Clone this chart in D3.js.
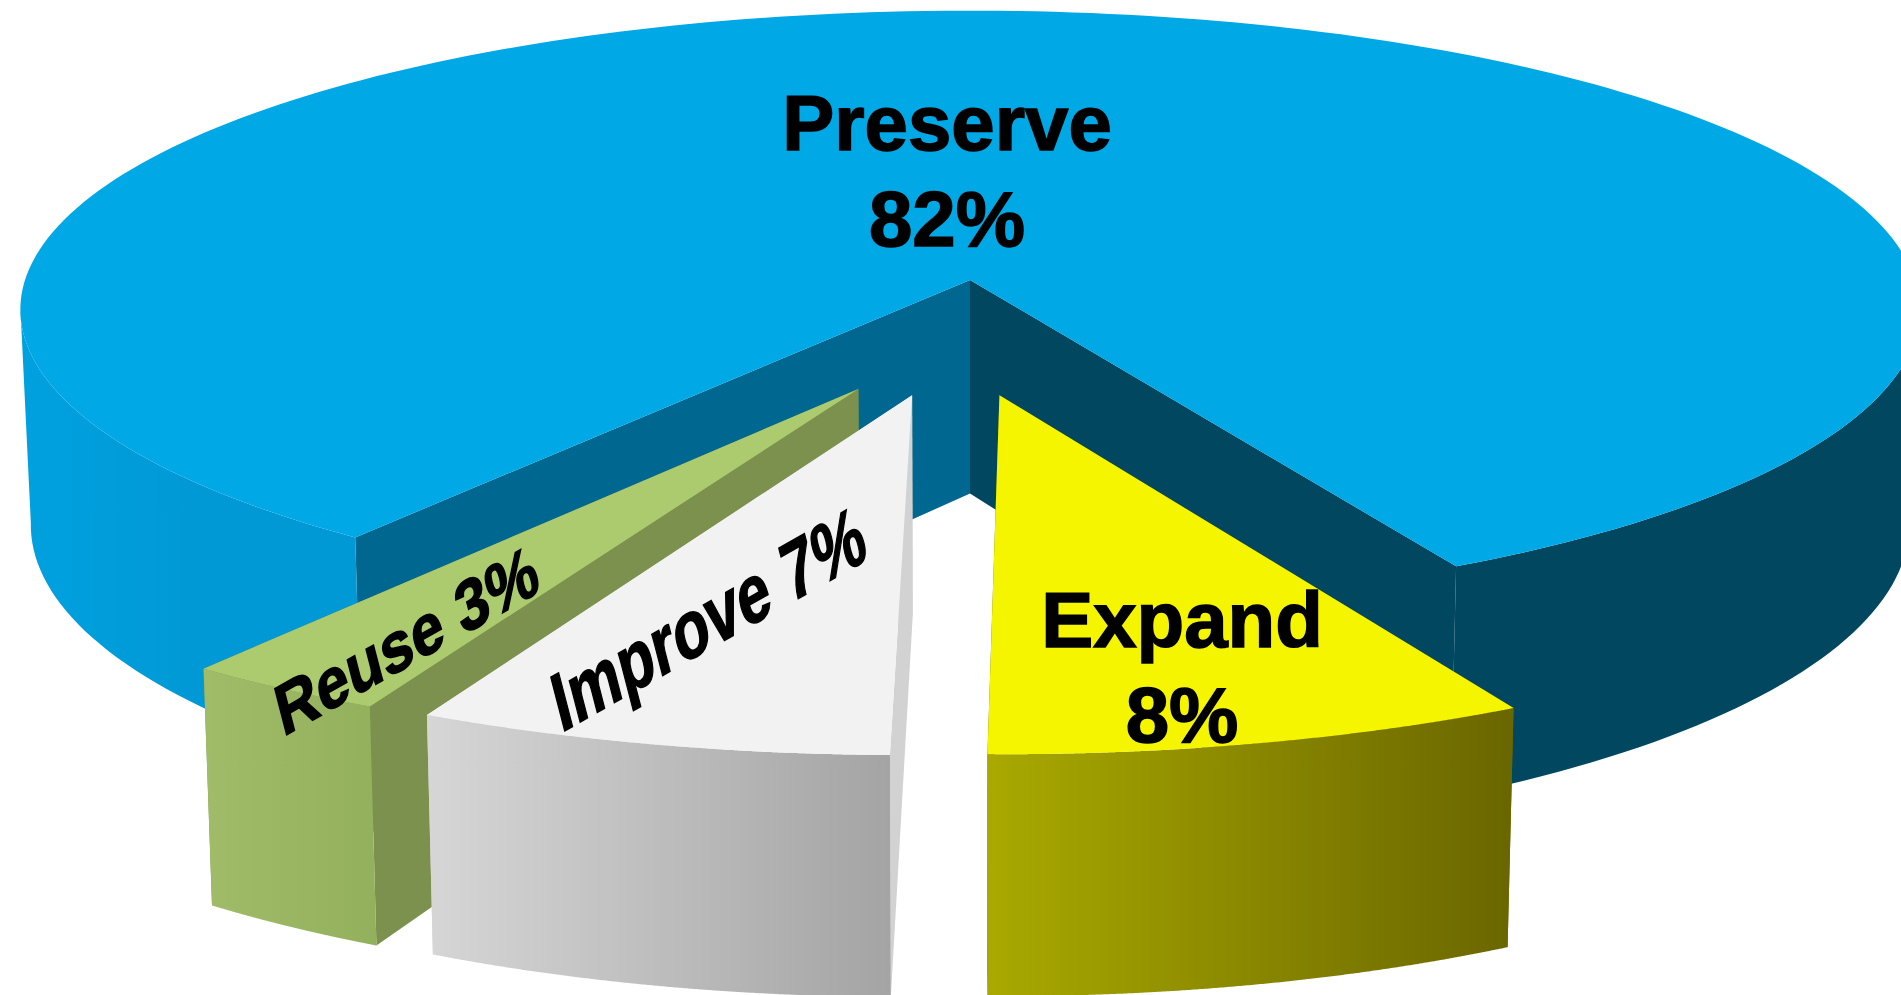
<!DOCTYPE html>
<html>
<head>
<meta charset="utf-8">
<script src="https://cdn.jsdelivr.net/npm/d3@7/dist/d3.min.js"></script>
<style>
  html, body { margin: 0; background: #fff; overflow: hidden; }
  text { font-family: "Liberation Sans", Arial, sans-serif; font-weight: bold; fill: #000; stroke: #000; }
</style>
</head>
<body>
<div id="root"></div>
<script>
const w = 1901, h = 995

// data, in drawing order round the pie (clockwise from the right edge of the gap)
const categories = ["Expand", "Improve", "Reuse", "Preserve"]
const shares = [8, 7, 3, 82]

// how far each slice is pulled out, in disc units (across, depth)
const pullX = [0.03, -0.059, -0.114, 0]
const pullY = [-0.375, -0.375, -0.355, 0]
// pulled slices came out a little larger than the disc
const radius = [1.008, 1.01, 1.008, 1]

const topColors = ["#f5f500", "#f2f2f2", "#abcb6e", "#00a8e6"]
const wallFrom = ["#a9a900", "#d6d6d6", "#a1bc68", "#00a2e0"]
const wallTo = ["#6a6600", "#a4a4a4", "#93b05c", "#00475f"]
const startWall = ["#6a6600", "#d2d2d2", "#7b914d", "#006890"]
const endWall = ["#6a6600", "#d2d2d2", "#7b914d", "#00475f"]

// perspective of the disc
const cx = 970, cy = 280, a = 945, b = 296, k = 0.0989
const depthY = 493.5, shrinkX = 0.989, stretchY = 1.06

const rad = d => d * Math.PI / 180

const project = (u, v) => [
    cx + a * u / (1 + k * v),
    cy - b * v / (1 + k * v)
]
// same point on the underside of the disc
const lower = p => [
    cx + (p[0] - cx) * shrinkX,
    depthY + (p[1] - cy) * stretchY
]

const pie = d3.pie().sort(null).startAngle(rad(152)).endAngle(rad(512))
const slices = pie(shares).map((d, i) => {
    const rim = d3.range(0, 241).map(t => {
        const th = d.startAngle + (d.endAngle - d.startAngle) * t / 240
        return project(pullX[i] + radius[i] * Math.sin(th), pullY[i] + radius[i] * Math.cos(th))
    })
    return { i, apex: project(pullX[i], pullY[i]), rim }
})

const line = d3.line()

// wall of the rim: only the stretches facing the viewer (x falling as we go clockwise)
function rimWall(rim) {
    const runs = []
    let run = null
    d3.pairs(rim).forEach(([p, q]) => {
        if (q[0] < p[0]) {
            if (!run) { run = [p]; runs.push(run) }
            run.push(q)
        } else {
            run = null
        }
    })
    return runs.map(r => line(r.concat(r.map(lower).reverse())) + "Z").join("")
}

const svg = d3.select("#root").append("svg")
    .attr("width", w)
    .attr("height", h)
    .style("display", "block")

const defs = svg.append("defs")
categories.forEach((c, i) => {
    const g = defs.append("linearGradient").attr("id", "wall" + i)
    if (c === "Preserve") {
        // left of the disc stays bright, right of it is in shade
        g.attr("gradientUnits", "userSpaceOnUse")
            .attr("x1", 0).attr("x2", w).attr("y1", 0).attr("y2", 0)
        g.append("stop").attr("offset", 0).attr("stop-color", wallFrom[i])
        g.append("stop").attr("offset", 0.1).attr("stop-color", "#0099d6")
        g.append("stop").attr("offset", 0.5).attr("stop-color", "#0097d4")
        g.append("stop").attr("offset", 0.5).attr("stop-color", wallTo[i])
        g.append("stop").attr("offset", 1).attr("stop-color", wallTo[i])
    } else {
        g.append("stop").attr("offset", 0).attr("stop-color", wallFrom[i])
        g.append("stop").attr("offset", 1).attr("stop-color", wallTo[i])
    }
})

// the big slice goes first, the pulled out ones on top of it
const order = [3, 2, 1, 0]
order.forEach(i => {
    const s = slices[i]
    const g = svg.append("g").attr("class", "slice " + categories[i])
    const first = s.rim[0], last = s.rim[s.rim.length - 1]

    g.append("path")
        .attr("d", line([s.apex, last, lower(last), lower(s.apex)]) + "Z")
        .attr("fill", endWall[i])
    g.append("path")
        .attr("d", line([s.apex, first, lower(first), lower(s.apex)]) + "Z")
        .attr("fill", startWall[i])
    g.append("path")
        .attr("d", rimWall(s.rim))
        .attr("fill", "url(#wall" + i + ")")
    g.append("path")
        .attr("d", line([s.apex].concat(s.rim)) + "Z")
        .attr("fill", topColors[i])
})

// upright labels
const upright = [
    { name: "Preserve", x: 947, y1: 150, y2: 246 },
    { name: "Expand", x: 1182, y1: 647, y2: 742 }
]
upright.forEach(l => {
    const i = categories.indexOf(l.name)
    svg.append("text").attr("x", l.x).attr("y", l.y1)
        .attr("text-anchor", "middle").attr("font-size", 78)
        .attr("stroke-width", 1.5).text(l.name)
    svg.append("text").attr("x", l.x).attr("y", l.y2)
        .attr("text-anchor", "middle").attr("font-size", 78)
        .attr("stroke-width", 1.5).text(shares[i] + "%")
})

// labels lying on the thin slices
const lying = [
    { name: "Improve", x: 561, y: 733, size: 78, sx: 0.81 },
    { name: "Reuse", x: 283, y: 737, size: 67, sx: 0.94 }
]
lying.forEach(l => {
    const i = categories.indexOf(l.name)
    svg.append("text")
        .attr("transform", `translate(${l.x},${l.y}) rotate(-29.5) skewX(-15) scale(${l.sx},1)`)
        .attr("font-size", l.size)
        .attr("stroke-width", 1.5)
        .text(l.name + " " + shares[i] + "%")
})
</script>
</body>
</html>
